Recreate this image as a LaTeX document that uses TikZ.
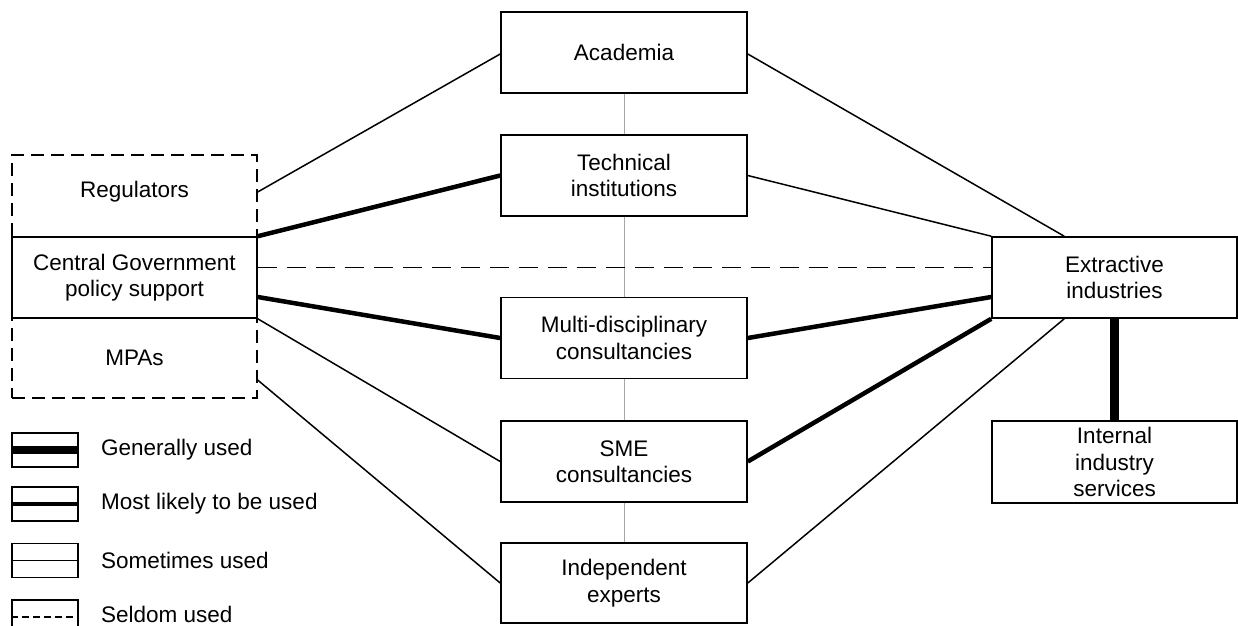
\documentclass[tikz,border=0pt]{standalone}
\usepackage{fontspec}
\setmainfont{Liberation Sans}
\usetikzlibrary{calc}
\begin{document}
\begin{tikzpicture}[x=1pt,y=-1pt,
  every node/.style={font=\fontsize{22.5}{26.5}\selectfont, align=center, inner sep=0pt},
  box/.style={draw, line width=1.6pt, minimum width=246pt, minimum height=81pt},
  dbox/.style={draw, dash pattern=on 13pt off 7pt, line width=1.3pt, minimum width=245pt, minimum height=82pt},
  lbox/.style={draw, line width=1.6pt, minimum width=66pt, minimum height=34pt},
  thin/.style={line width=1.5pt},
  likely/.style={line width=4.5pt},
  general/.style={line width=9pt},
  seldom/.style={line width=1.7pt, dash pattern=on 19pt off 10pt},
  mid/.style={line width=1pt, gray!70},
  ltext/.style={anchor=west}]
\clip (0,0) rectangle (1238,625);
\fill[white] (0,0) rectangle (1238,625);
% middle column
\node[box] (aca) at (624,52.5) {Academia};
\node[box] (tec) at (624,175.5) {Technical\\institutions};
\node[box] (mul) at (624,338) {Multi-disciplinary\\consultancies};
\node[box] (sme) at (624,461.5) {SME\\consultancies};
\node[box, minimum height=80pt] (ind) at (624,583) {Independent\\experts};
\draw[mid] (aca.south) -- (tec.north);
\draw[mid] (tec.south) -- (mul.north);
\draw[mid] (mul.south) -- (sme.north);
\draw[mid] (sme.south) -- (ind.north);
% left group
\node[dbox] (reg) at (134.5,196) {};
\node at (134.5,192) {Regulators};
\node[dbox, minimum height=80pt] (mpa) at (134.5,358) {};
\node at (134.5,358) {MPAs};
\node[box, minimum width=245pt, fill=white] (cg) at (134.5,277.5) {Central Government\\policy support};
% right
\node[box, minimum width=245pt] (ext) at (1114.5,277.5) {Extractive\\industries};
\node[box, minimum width=245pt, minimum height=82pt] (int) at (1114.5,462) {Internal\\industry\\services};
\draw[general] (ext.south) -- (int.north);
% connectors
\draw[thin] ([yshift=4pt]reg.east) -- ([yshift=-1.5pt]aca.west);
\draw[likely] (cg.north east) -- (tec.west);
\draw[seldom] ([yshift=10pt]cg.east) -- ([yshift=10pt]ext.west);
\draw[likely] ([yshift=-19.5pt]cg.east) -- (mul.west);
\draw[thin] (cg.south east) -- (sme.west);
\draw[thin] ([yshift=-22pt]mpa.east) -- (ind.west);
\draw[thin] ([yshift=-1.5pt]aca.east) -- ([xshift=73pt]ext.north west);
\draw[thin] (tec.east) -- (ext.north west);
\draw[likely] (mul.east) -- ([yshift=-19.5pt]ext.west);
\draw[likely] (sme.east) -- (ext.south west);
\draw[thin] (ind.east) -- ([xshift=73pt]ext.south west);
% legend
\node[lbox] (l1) at (45,450) {};
\draw[general, line width=8pt] (l1.west) -- (l1.east);
\node[ltext] (t1) at (101,450) {Generally used};
\node[lbox] (l2) at (45,504) {};
\draw[likely] (l2.west) -- (l2.east);
\node[ltext] (t2) at (101,504) {Most likely to be used};
\node[lbox] (l3) at (45,560.5) {};
\draw[thin] (l3.west) -- (l3.east);
\node[ltext] (t3) at (101,560.5) {Sometimes used};
\node[lbox] (l4) at (45,617) {};
\draw[line width=1.4pt, dash pattern=on 7pt off 4pt] (l4.west) -- (l4.east);
\node[ltext] (t4) at (101,614) {Seldom used};
\end{tikzpicture}
\end{document}
